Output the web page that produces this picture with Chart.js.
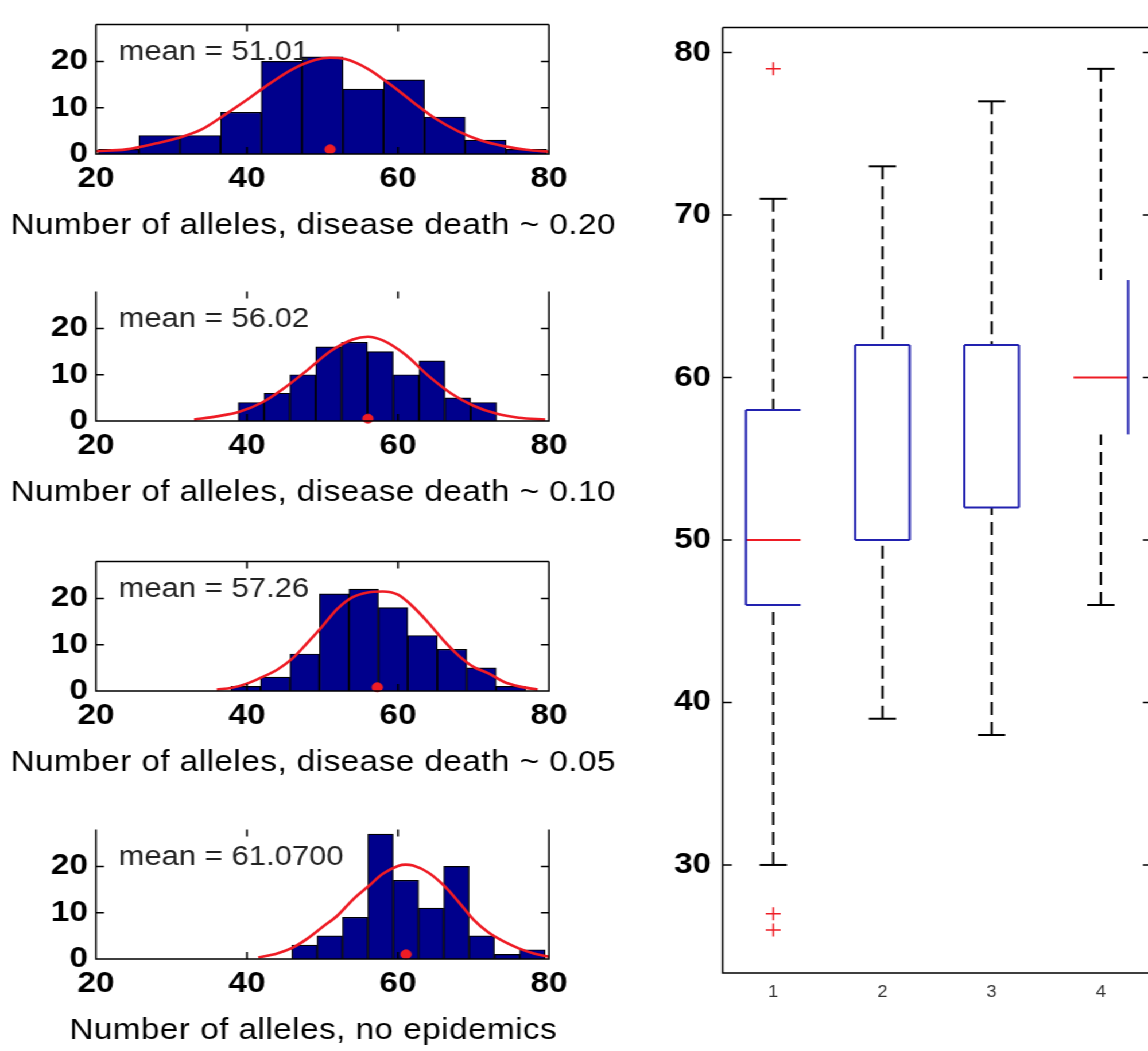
<!DOCTYPE html>
<html>
<head>
<meta charset="utf-8">
<script src="https://cdn.jsdelivr.net/npm/chart.js@4.4.1/dist/chart.umd.min.js"></script>
<style>
    html, body { margin: 0; padding: 0; background: #fff; overflow: hidden; }
    /* the reference is stretched horizontally, so everything is drawn 1000 wide and scaled */
    #stage { position: absolute; left: 0; top: 0; width: 1000px; height: 1051px; transform: scaleX(1.148); transform-origin: 0 0; }
    #stage canvas { position: absolute; }
</style>
</head>
<body>
<div id="stage">
    <canvas id="hist1" width="560" height="250" style="left:0;top:0;width:560px;height:250px"></canvas>
    <canvas id="hist2" width="560" height="250" style="left:0;top:267px;width:560px;height:250px"></canvas>
    <canvas id="hist3" width="560" height="250" style="left:0;top:537px;width:560px;height:250px"></canvas>
    <canvas id="hist4" width="560" height="250" style="left:0;top:805px;width:560px;height:250px"></canvas>
    <canvas id="boxChart" width="460" height="1051" style="left:560px;top:0;width:460px;height:1051px"></canvas>
</div>
<script>
// ---- data ----
var HIST_TITLES = [
    'Number of alleles, disease death ~ 0.20',
    'Number of alleles, disease death ~ 0.10',
    'Number of alleles, disease death ~ 0.05',
    'Number of alleles, no epidemics'
];
var MEAN_LABELS = ['mean = 51.01', 'mean = 56.02', 'mean = 57.26', 'mean = 61.0700'];
var MEANS = [51.01, 56.02, 57.26, 61.07];
var MEAN_MARK_Y = [1, 0.5, 0.8, 1];

var HIST_X_TICKS = [20, 40, 60, 80];
var HIST_Y_TICKS = [0, 10, 20];

var BINS_1 = [23.0, 28.4, 33.8, 39.2, 44.6, 50.0, 55.4, 60.8, 66.2, 71.6, 77.0];
var COUNTS_1 = [1, 4, 4, 9, 20, 21, 14, 16, 8, 3, 1];
var FIT_X_1 = [20, 24, 28, 31, 34, 37, 40, 43, 46, 49, 51, 53, 56, 59, 62, 65, 68, 71, 74, 77, 80];
var FIT_Y_1 = [0.6, 1.0, 2.3, 3.5, 5.3, 8.4, 11.7, 15.2, 18.3, 20.3, 20.8, 20.5, 18.4, 15.0, 11.2, 7.6, 4.9, 2.9, 1.7, 0.9, 0.5];

var BINS_2 = [40.56, 43.98, 47.40, 50.82, 54.24, 57.66, 61.08, 64.50, 67.92, 71.34];
var COUNTS_2 = [4, 6, 10, 16, 17, 15, 10, 13, 5, 4];
var FIT_X_2 = [33, 36, 39, 42, 45, 48, 51, 54, 56, 58, 61, 64, 67, 70, 73, 76, 79.5];
var FIT_Y_2 = [0.3, 1.0, 2.0, 4.0, 7.2, 11.0, 15.0, 17.6, 18.2, 17.4, 14.3, 9.8, 6.0, 3.3, 1.6, 0.7, 0.3];

var BINS_3 = [39.85, 43.75, 47.65, 51.55, 55.45, 59.35, 63.25, 67.15, 71.05, 74.95];
var COUNTS_3 = [1, 3, 8, 21, 22, 18, 12, 9, 5, 1];
var FIT_X_3 = [36, 38, 40, 42, 44, 46, 48, 50, 52, 54, 56, 58, 60, 62, 64, 66, 68, 70, 72, 74, 76, 78.5];
var FIT_Y_3 = [0.3, 0.7, 1.6, 3.0, 4.6, 7.0, 10.4, 14.0, 17.8, 20.3, 21.3, 21.5, 20.8, 18.2, 14.8, 11.0, 7.7, 5.2, 3.8, 2.0, 1.0, 0.3];

var BINS_4 = [47.64, 50.99, 54.34, 57.69, 61.04, 64.39, 67.74, 71.09, 74.44, 77.79];
var COUNTS_4 = [3, 5, 9, 27, 17, 11, 20, 5, 1, 2];
var FIT_X_4 = [41.5, 44, 46, 48, 50, 52, 54, 56, 58, 60, 61, 62, 64, 66, 68, 70, 72, 74, 76, 78, 80];
var FIT_Y_4 = [0.3, 1.2, 2.4, 4.4, 6.9, 9.4, 12.8, 15.6, 18.4, 20.1, 20.4, 20.2, 18.7, 16.0, 12.4, 8.5, 5.7, 3.8, 2.3, 1.2, 0.5];

var BOX_LABELS = ['1', '2', '3', '4'];
var BOX_Y_TICKS = [30, 40, 50, 60, 70, 80];
var BOX_Q1 = [46, 50, 52, 56.5];
var BOX_MEDIAN = [50, 50, 52, 60];
var BOX_Q3 = [58, 62, 62, 66];
var WHISKER_LO = [30, 39, 38, 46];
var WHISKER_HI = [71, 73, 77, 79];
var OUTLIERS = [[79, 27, 26], [], [], []];

// ---- styles ----
var NAVY = '#00008c';
var RED = '#ee1c25';
var BLUE = '#2222b0';
var FONT = "'Liberation Sans', Arial, sans-serif";
var TICK_FONT = { family: FONT, size: 29, weight: 'bold' };
// which box edges survive in the reference (left, top, right, bottom)
var BOX_EDGES = [
    [true, true, false, true],
    [true, true, true, true],
    [true, true, true, true],
    [false, false, true, false]
];
var BOX_HALF = 0.25;
var CAP_HALF = 0.125;

Chart.defaults.font.family = FONT;
Chart.defaults.color = '#000';

function fixedTicks(values) {
    return function (scale) {
        scale.ticks = values.map(function (v) { return { value: v }; });
    };
}

// axes box with inward tick marks, matlab style
var framePlugin = {
    id: 'frame',
    afterDatasetsDraw: function (chart, args, opts) {
        var a = chart.chartArea;
        var ctx = chart.ctx;
        var xs = chart.scales.x;
        var ys = chart.scales.y;
        var tl = opts.tickLength;
        ctx.save();
        ctx.strokeStyle = '#000';
        ctx.lineWidth = 1.5;
        ctx.beginPath();
        ctx.moveTo(a.left, a.top);
        ctx.lineTo(a.left, a.bottom);
        ctx.lineTo(a.right, a.bottom);
        if (opts.right) { ctx.lineTo(a.right, a.top); }
        if (opts.top) { ctx.moveTo(a.left, a.top); ctx.lineTo(a.right, a.top); }
        if (opts.xTicks) {
            xs.ticks.forEach(function (t) {
                var px = xs.getPixelForValue(t.value);
                ctx.moveTo(px, a.bottom);
                ctx.lineTo(px, a.bottom - tl);
                ctx.moveTo(px, a.top);
                ctx.lineTo(px, a.top + tl);
            });
        }
        ys.ticks.forEach(function (t) {
            var py = ys.getPixelForValue(t.value);
            ctx.moveTo(a.left, py);
            ctx.lineTo(a.left + tl, py);
            ctx.moveTo(a.right, py);
            ctx.lineTo(a.right - tl, py);
        });
        ctx.stroke();
        ctx.restore();
    }
};

// mean label inside the axes and the xlabel below
var labelsPlugin = {
    id: 'labels',
    afterDraw: function (chart, args, opts) {
        var a = chart.chartArea;
        var ctx = chart.ctx;
        ctx.save();
        ctx.fillStyle = '#222';
        ctx.font = '27px ' + FONT;
        ctx.textAlign = 'left';
        ctx.textBaseline = 'middle';
        ctx.fillText(opts.meanText, chart.scales.x.getPixelForValue(23), chart.scales.y.getPixelForValue(22));
        ctx.fillStyle = '#000';
        ctx.font = '29px ' + FONT;
        if ('letterSpacing' in ctx) { ctx.letterSpacing = '0.4px'; }
        ctx.textAlign = 'center';
        ctx.textBaseline = 'alphabetic';
        ctx.fillText(opts.title, (a.left + a.right) / 2 - 8, a.bottom + 80);
        ctx.restore();
    }
};

function createHistChart(id, bins, counts, fitX, fitY, idx, hasTop) {
    var ctx = document.getElementById(id).getContext('2d');
    return new Chart(ctx, {
        type: 'bar',
        data: {
            datasets: [{
                type: 'scatter',
                data: [{ x: MEANS[idx], y: MEAN_MARK_Y[idx] }],
                pointRadius: 4.5,
                pointBackgroundColor: RED,
                pointBorderColor: RED,
                clip: false,
                order: 0,
            }, {
                type: 'line',
                data: fitX.map(function (x, i) { return { x: x, y: fitY[i] }; }),
                borderColor: RED,
                borderWidth: 2.6,
                pointRadius: 0,
                fill: false,
                cubicInterpolationMode: 'monotone',
                order: 1,
            }, {
                type: 'bar',
                data: bins.map(function (x, i) { return { x: x, y: counts[i] }; }),
                backgroundColor: NAVY,
                borderColor: '#000',
                borderWidth: 1.2,
                barPercentage: 1,
                categoryPercentage: 1,
                order: 2,
            }],
        },
        options: {
            responsive: false,
            animation: false,
            layout: { padding: { top: 10, right: 81.8, left: 0, bottom: 0 } },
            plugins: {
                legend: { display: false },
                tooltip: { enabled: false },
                frame: { tickLength: 7, top: hasTop, right: true, xTicks: true },
                labels: { meanText: MEAN_LABELS[idx], title: HIST_TITLES[idx] },
            },
            scales: {
                x: {
                    type: 'linear',
                    min: 20,
                    max: 80,
                    offset: false,
                    afterBuildTicks: fixedTicks(HIST_X_TICKS),
                    afterFit: function (s) { s.height = 96; },
                    grid: { display: false, drawTicks: false },
                    border: { display: false },
                    ticks: { font: TICK_FONT, padding: 8, maxRotation: 0, autoSkip: false },
                },
                y: {
                    min: 0,
                    max: 28,
                    afterBuildTicks: fixedTicks(HIST_Y_TICKS),
                    afterFit: function (s) { s.width = 83.6; },
                    grid: { display: false, drawTicks: false },
                    border: { display: false },
                    ticks: { font: TICK_FONT, padding: 7 },
                },
            },
        },
        plugins: [framePlugin, labelsPlugin],
    });
}

var boxPlugin = {
    id: 'boxes',
    beforeDatasetsDraw: function (chart) {
        var ctx = chart.ctx;
        var xs = chart.scales.x;
        var ys = chart.scales.y;
        function seg(x1, y1, x2, y2) {
            ctx.beginPath();
            ctx.moveTo(x1, y1);
            ctx.lineTo(x2, y2);
            ctx.stroke();
        }
        ctx.save();
        ctx.lineWidth = 2;
        for (var i = 0; i < BOX_Q1.length; i++) {
            var c = i + 1;
            var cx = xs.getPixelForValue(c);
            var xl = xs.getPixelForValue(c - BOX_HALF);
            var xr = xs.getPixelForValue(c + BOX_HALF);
            var cl = xs.getPixelForValue(c - CAP_HALF);
            var cr = xs.getPixelForValue(c + CAP_HALF);
            var yq1 = ys.getPixelForValue(BOX_Q1[i]);
            var yq3 = ys.getPixelForValue(BOX_Q3[i]);
            var ymed = ys.getPixelForValue(BOX_MEDIAN[i]);
            var ylo = ys.getPixelForValue(WHISKER_LO[i]);
            var yhi = ys.getPixelForValue(WHISKER_HI[i]);

            ctx.strokeStyle = '#000';
            ctx.setLineDash([13, 7]);
            seg(cx, yhi, cx, yq3);
            seg(cx, ylo, cx, yq1);
            ctx.setLineDash([]);
            seg(cl, yhi, cr, yhi);
            seg(cl, ylo, cr, ylo);

            // a median sitting on a quartile is hidden by the box edge
            if (BOX_MEDIAN[i] !== BOX_Q1[i] && BOX_MEDIAN[i] !== BOX_Q3[i]) {
                ctx.strokeStyle = RED;
                seg(xl, ymed, xr, ymed);
            }

            var e = BOX_EDGES[i];
            ctx.strokeStyle = BLUE;
            if (e[0]) seg(xl, yq1, xl, yq3);
            if (e[1]) seg(xl, yq3, xr, yq3);
            if (e[2]) seg(xr, yq1, xr, yq3);
            if (e[3]) seg(xl, yq1, xr, yq1);
        }
        ctx.restore();
    }
};

function createBoxChart(id) {
    var ctx = document.getElementById(id).getContext('2d');
    var outlierPts = [];
    OUTLIERS.forEach(function (list, i) {
        list.forEach(function (v) { outlierPts.push({ x: i + 1, y: v }); });
    });
    return new Chart(ctx, {
        type: 'scatter',
        data: {
            datasets: [{
                data: outlierPts,
                pointStyle: 'cross',
                pointRadius: 6.5,
                borderColor: RED,
                borderWidth: 1.5,
            }],
        },
        options: {
            responsive: false,
            animation: false,
            layout: { padding: { top: 11, right: 16.4, left: 0, bottom: 0 } },
            plugins: {
                legend: { display: false },
                tooltip: { enabled: false },
                frame: { tickLength: 8, top: true, right: true, xTicks: false },
            },
            scales: {
                x: {
                    type: 'linear',
                    min: 0.537,
                    max: 4.47,
                    afterBuildTicks: fixedTicks([1, 2, 3, 4]),
                    afterFit: function (s) { s.height = 78; },
                    grid: { display: false, drawTicks: false },
                    border: { display: false },
                    ticks: {
                        font: { family: FONT, size: 16 },
                        color: '#333',
                        padding: 10,
                        maxRotation: 0,
                        autoSkip: false,
                        callback: function (v) { return BOX_LABELS[v - 1]; },
                    },
                },
                y: {
                    min: 23.35,
                    max: 81.55,
                    afterBuildTicks: fixedTicks(BOX_Y_TICKS),
                    afterFit: function (s) { s.width = 69.5; },
                    grid: { display: false, drawTicks: false },
                    border: { display: false },
                    ticks: { font: TICK_FONT, padding: 10 },
                },
            },
        },
        plugins: [boxPlugin, framePlugin],
    });
}

createHistChart('hist1', BINS_1, COUNTS_1, FIT_X_1, FIT_Y_1, 0, true);
createHistChart('hist2', BINS_2, COUNTS_2, FIT_X_2, FIT_Y_2, 1, false);
createHistChart('hist3', BINS_3, COUNTS_3, FIT_X_3, FIT_Y_3, 2, true);
createHistChart('hist4', BINS_4, COUNTS_4, FIT_X_4, FIT_Y_4, 3, false);
createBoxChart('boxChart');
</script>
</body>
</html>
